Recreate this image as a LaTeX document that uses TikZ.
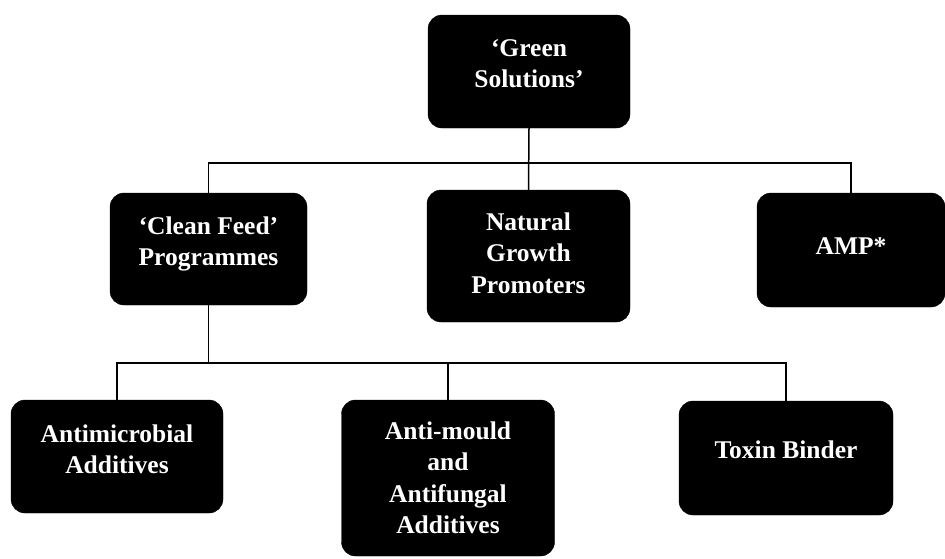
\documentclass[tikz,border=0pt]{standalone}
\usepackage{fontspec}
\setmainfont{Liberation Serif}
\begin{document}
\begin{tikzpicture}[x=1pt,y=-1pt,
  box/.style={rounded corners=14pt, fill=black, draw=black, inner sep=0pt},
  txt/.style={text=white, font=\bfseries\fontsize{25.5}{31.5}\selectfont, align=center, inner sep=0pt},
  conn/.style={draw=black, line width=1.5pt}]
\useasboundingbox[fill=white] (0,0) rectangle (945,558);
\node[box, minimum width=202pt, minimum height=113pt] (top) at (529,71.5) {};
\node[box, minimum width=197pt, minimum height=112pt] (cf) at (208.5,249) {};
\node[box, minimum width=203pt, minimum height=132pt] (nat) at (528.5,256) {};
\node[box, minimum width=188pt, minimum height=114pt] (amp) at (851,250) {};
\node[box, minimum width=212pt, minimum height=113pt] (am) at (117,456.5) {};
\node[box, minimum width=213pt, minimum height=156pt] (amf) at (448,478) {};
\node[box, minimum width=214pt, minimum height=114pt] (tb) at (786,458) {};
\node[txt] (topt) at ([yshift=8pt]top.center) {`Green\\Solutions'};
\node[txt] (cft) at ([yshift=5pt]cf.center) {`Clean Feed'\\Programmes};
\node[txt] (natt) at ([yshift=3pt]nat.center) {Natural\\Growth\\Promoters};
\node[txt] (ampt) at ([yshift=4pt]amp.center) {AMP*};
\node[txt] (amt) at ([yshift=7pt]am.center) {Antimicrobial\\Additives};
\node[txt] (amft) at ([yshift=0pt]amf.center) {Anti-mould\\and\\Antifungal\\Additives};
\node[txt] (tbt) at ([yshift=8pt]tb.center) {Toxin Binder};
\coordinate (tl) at (0,163);
\coordinate (bl) at (0,363);
\draw[conn] (cf.north) -- (cf.north |- tl) -| (amp.north);
\draw[conn] (top.south) -- (nat.north);
\draw[conn] (cf.south) -- (cf.south |- bl);
\draw[conn] (am.north) -- (am.north |- bl) -| (tb.north);
\draw[conn] (amf.north) -- (amf.north |- bl);
\end{tikzpicture}
\end{document}
